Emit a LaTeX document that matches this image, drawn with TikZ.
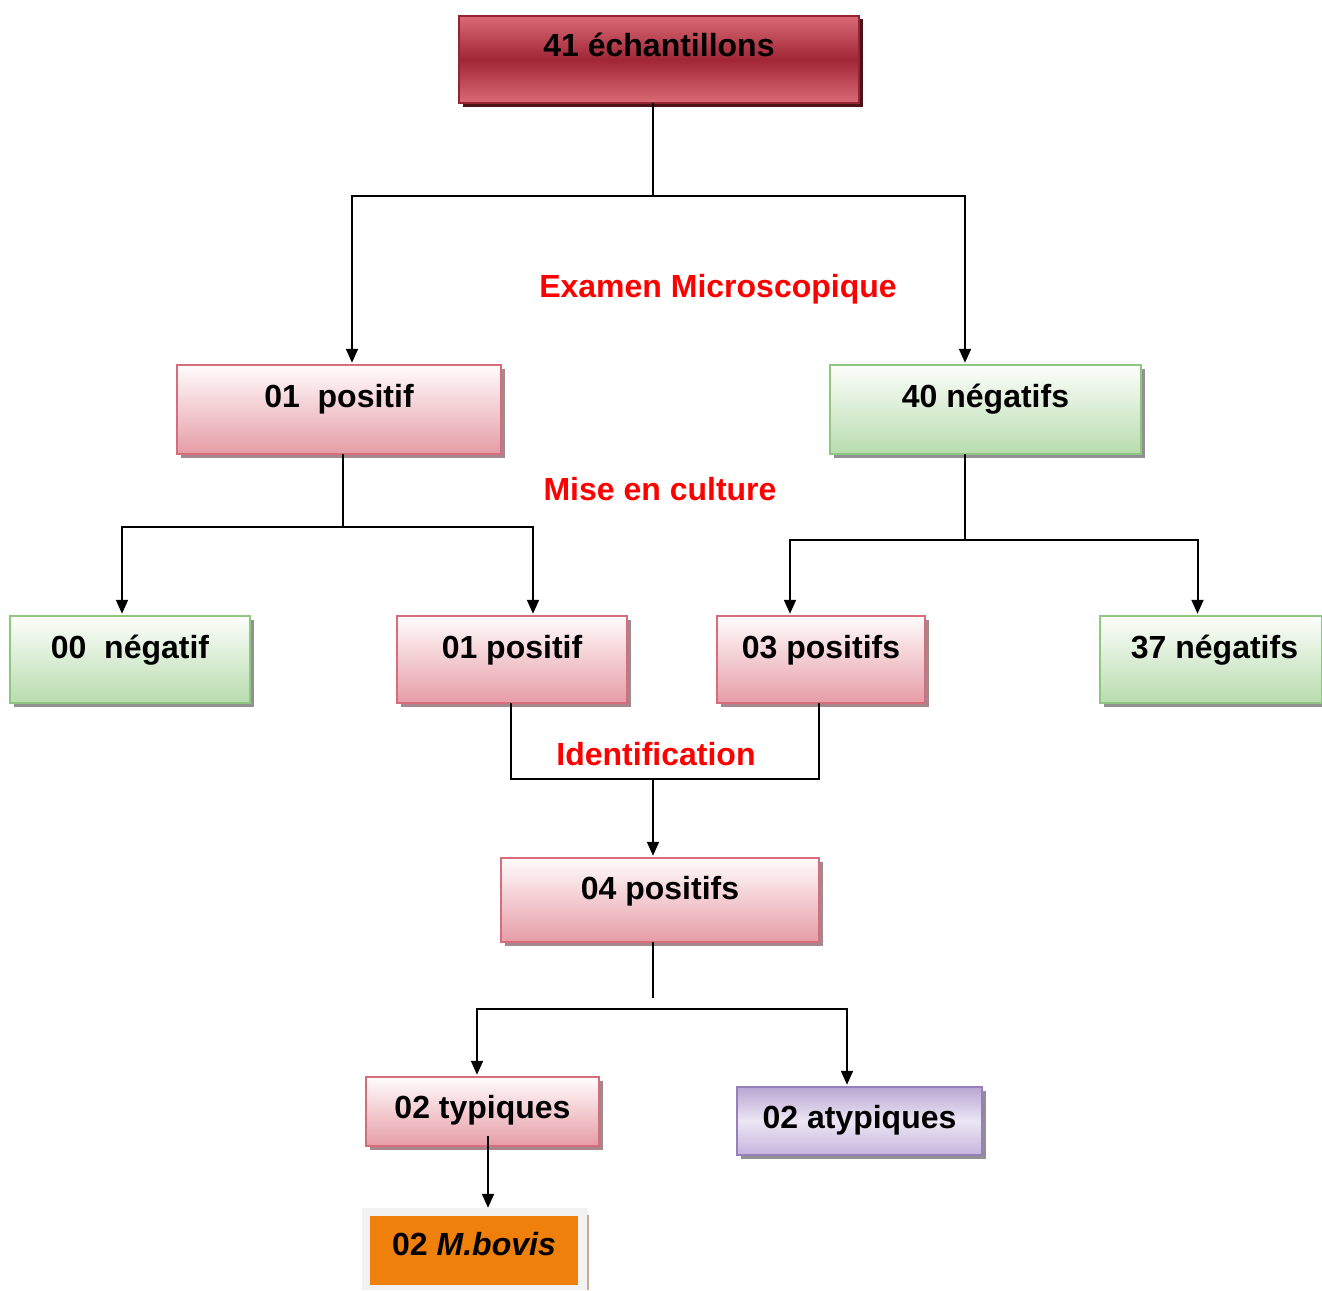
\documentclass[tikz,border=0pt]{standalone}
\usepackage{fontspec}
\setmainfont{Liberation Sans}
\usetikzlibrary{arrows.meta,shadows}
\definecolor{pinkT}{RGB}{255,252,252}
\definecolor{pinkB}{RGB}{230,156,166}
\definecolor{pinkD}{RGB}{214,108,124}
\definecolor{pinkS}{RGB}{165,135,140}
\definecolor{greenT}{RGB}{252,254,251}
\definecolor{greenB}{RGB}{184,220,174}
\definecolor{greenD}{RGB}{142,198,130}
\definecolor{greyS}{RGB}{145,145,145}
\definecolor{redL}{RGB}{218,106,118}
\definecolor{redM}{RGB}{160,38,54}
\definecolor{redD}{RGB}{150,35,50}
\definecolor{redS}{RGB}{75,18,24}
\definecolor{purT}{RGB}{184,166,210}
\definecolor{purM}{RGB}{236,230,244}
\definecolor{purB}{RGB}{196,180,220}
\definecolor{purD}{RGB}{150,128,186}
\definecolor{orangeF}{RGB}{239,128,12}
\definecolor{outerG}{RGB}{242,242,242}
\definecolor{brownL}{RGB}{200,170,140}
\tikzset{
  txt/.style={font=\fontsize{32}{38}\selectfont\bfseries, inner sep=0pt, align=center},
  shad/.style={general shadow={fill=#1, shadow xshift=3.5pt, shadow yshift=-3.5pt}},
  pinkbox/.style={txt, draw=pinkD, line width=2.5pt, top color=pinkT, bottom color=pinkB, shad=pinkS},
  greenbox/.style={txt, draw=greenD, line width=2.5pt, top color=greenT, bottom color=greenB, shad=greyS},
  redbox/.style={txt, draw=redD, line width=2.5pt, top color=redL, bottom color=redL, middle color=redM, shad=redS},
  purbox/.style={txt, draw=purD, line width=2.5pt, top color=purT, bottom color=purB, middle color=purM, shad=greyS},
  lbl/.style={font=\fontsize{32}{38}\selectfont\bfseries, text=red, inner sep=0pt},
  conn/.style={line width=2pt, line cap=rect},
  arr/.style={line width=2pt, -{Triangle[width=12pt,length=14pt]}, shorten >=1pt}
}
\begin{document}
\begin{tikzpicture}[x=1pt,y=1pt]
\useasboundingbox (0,0) rectangle (1322,-1290);
\fill[white] (0,0) rectangle (1322,-1290);
% boxes
\node[redbox, minimum width=400pt, text height=41pt, text depth=46pt] (top) at (659,-59.5) {41 échantillons};
\node[pinkbox, minimum width=324pt, text height=42pt, text depth=47pt] (p1) at (339,-409.5) {01\ \ positif};
\node[greenbox, minimum width=311pt, text height=42pt, text depth=47pt] (n40) at (985.5,-409.5) {40 négatifs};
\node[greenbox, minimum width=240pt, text height=42pt, text depth=45pt] (n00) at (130,-659.5) {00\ \ négatif};
\node[pinkbox, minimum width=230pt, text height=42pt, text depth=45pt] (p01) at (512,-659.5) {01 positif};
\node[pinkbox, minimum width=208pt, text height=42pt, text depth=45pt] (p03) at (821,-659.5) {03 positifs};
\node[greenbox, minimum width=222pt, text height=42pt, text depth=45pt] (n37) at (1211,-659.5) {\hspace*{7pt}37 négatifs};
\node[pinkbox, minimum width=318pt, text height=41pt, text depth=43pt] (p04) at (660,-900) {04 positifs};
\node[pinkbox, minimum width=233pt, text height=41pt, text depth=28pt] (typ) at (482.5,-1111.5) {02 typiques};
\node[purbox, minimum width=245pt, text height=41pt, text depth=27pt] (atyp) at (859.5,-1121) {02 atypiques};
\node[fill=outerG, inner sep=0pt, minimum width=226pt, minimum height=82pt] (bovout) at (475,-1249) {};
\draw[brownL, line width=2pt] ([yshift=-7pt]bovout.north east) -- (bovout.south east);
\node[txt, fill=orangeF, minimum width=208pt, text height=39pt, text depth=30pt] (bovis) at (474,-1250.5) {02 \textit{M.bovis}};
% labels
\node[lbl] (l1) at (718,-289) {Examen Microscopique};
\node[lbl] (l2) at (660,-489) {Mise en culture};
\node[lbl] (l3) at (656,-754) {Identification};
% junctions
\coordinate (j1) at (653,-196);
\coordinate (j2) at (343,-527);
\coordinate (j3) at (965,-540);
\coordinate (j4) at (653,-779);
\coordinate (j5a) at (653,-997);
\coordinate (j5) at (653,-1009);
% connectors
\draw[conn] (top.south -| j1) -- (j1);
\draw[arr] (j1) -| ([xshift=13pt]p1.north);
\draw[arr] (j1) -| ([xshift=-20.5pt]n40.north);
\draw[conn] (p1.south -| j2) -- (j2);
\draw[arr] (j2) -| ([xshift=-8pt]n00.north);
\draw[arr] (j2) -| ([xshift=21pt]p01.north);
\draw[conn] (n40.south -| j3) -- (j3);
\draw[arr] (j3) -| ([xshift=-31pt]p03.north);
\draw[arr] (j3) -| ([xshift=-13.5pt]n37.north);
\draw[conn] ([xshift=-1pt]p01.south) |- (j4) -| ([xshift=-2pt]p03.south);
\draw[arr] (j4) -- (p04.north -| j4);
\draw[conn] (p04.south -| j5a) -- (j5a);
\draw[arr] (j5) -| ([xshift=-5.5pt]typ.north);
\draw[arr] (j5) -| ([xshift=-12.5pt]atyp.north);
\draw[arr, shorten >=0pt] ([xshift=5.5pt,yshift=11pt]typ.south) -- ([xshift=13pt]bovout.north);
\end{tikzpicture}
\end{document}
